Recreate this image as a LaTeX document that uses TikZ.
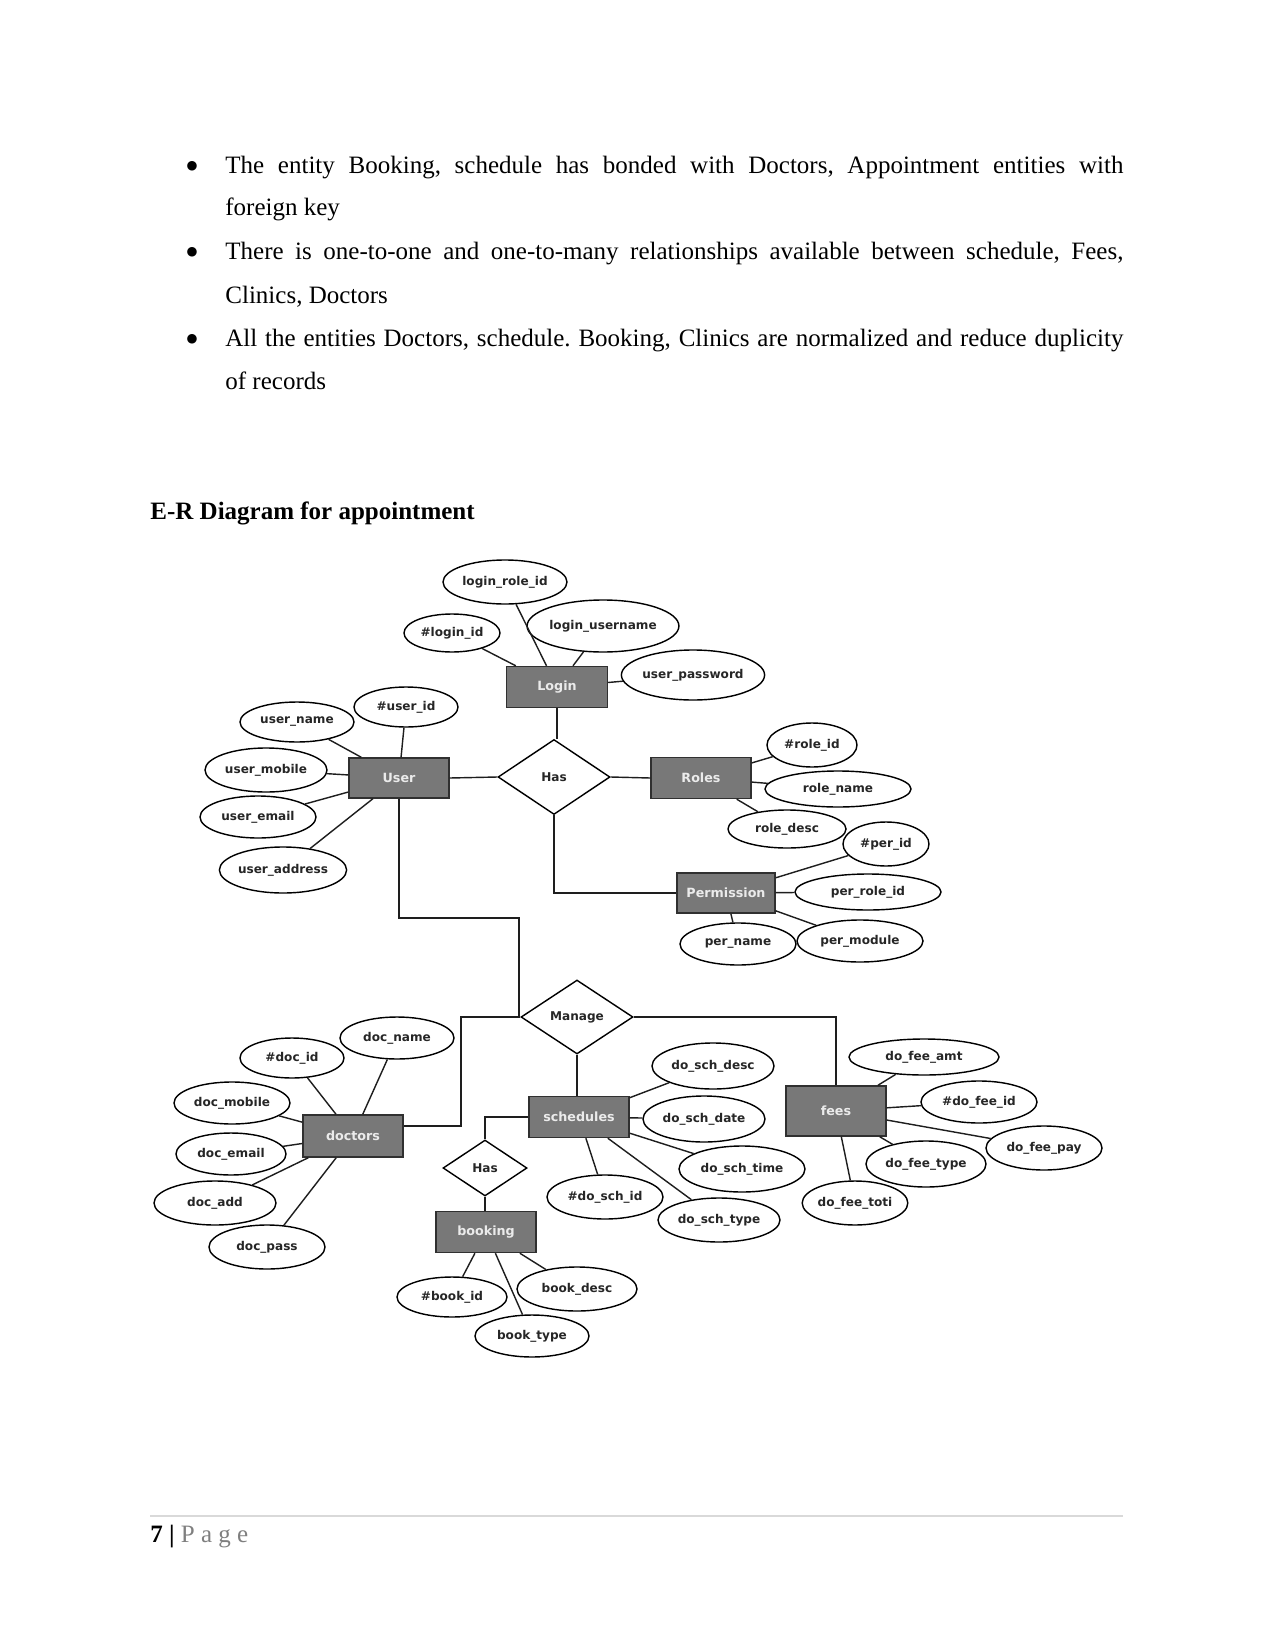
\documentclass[tikz,border=0pt]{standalone}
\usepackage{fontspec}
\setmainfont{Liberation Serif}
\newfontfamily\erfont{DejaVu Sans}
\usetikzlibrary{shapes.geometric}
\definecolor{entfill}{HTML}{787878}
\definecolor{entline}{HTML}{303030}
\definecolor{attrtext}{HTML}{262626}
\definecolor{linecol}{HTML}{1E1E1E}
\definecolor{footgray}{HTML}{7F7F7F}
\definecolor{rulegray}{HTML}{D9D9D9}
\newcommand\erAtt[6]{\node[attr, minimum width={2*#4*0.48pt}, minimum height={2*#5*0.48pt}] (#1) at (#2,#3) {#6};}
\newcommand\erEnt[6]{\node[ent, minimum width={#4*0.48pt}, minimum height={#5*0.48pt}] (#1) at (#2,#3) {#6};}
\newcommand\erRel[6]{\node[rel, minimum width={#4*0.48pt}, minimum height={#5*0.48pt}] (#1) at (#2,#3) {#6};}
\frenchspacing
\begin{document}
\begin{tikzpicture}[x=0.48pt,y=-0.48pt,
  body/.style={anchor=base west, inner sep=0pt, font=\fontsize{12pt}{14pt}\selectfont},
  bul/.style={anchor=base, inner sep=0pt, font=\erfont\fontsize{6pt}{7pt}\selectfont},
  attr/.style={ellipse, draw=black, line width=0.68pt, fill=white, inner sep=0pt,
    text=attrtext, font=\erfont\bfseries\fontsize{5.8pt}{7pt}\selectfont},
  ent/.style={rectangle, draw=entline, line width=0.68pt, fill=entfill, inner sep=0pt,
    text=white!92!black, font=\erfont\bfseries\fontsize{6.1pt}{7pt}\selectfont},
  rel/.style={diamond, draw=black, line width=0.68pt, fill=white, inner sep=0pt,
    text=attrtext, font=\erfont\bfseries\fontsize{5.8pt}{7pt}\selectfont},
  conn/.style={draw=linecol, line width=0.68pt}]
\path[use as bounding box] (0,0) rectangle (1275,1651);

% ---------- text ----------
\node[bul] (b1) at (192,170) {●};
\node[body] (t1) at (225,174) {\makebox[431.04pt][s]{The entity Booking, schedule has bonded with Doctors, Appointment entities with}};
\node[body] (t2) at (225,216) {foreign key};
\node[bul] (b2) at (192,256) {●};
\node[body] (t3) at (225,260) {\makebox[431.04pt][s]{There is one-to-one and one-to-many relationships available between schedule, Fees,}};
\node[body] (t4) at (225,303) {Clinics, Doctors};
\node[bul] (b3) at (192,342) {●};
\node[body] (t5) at (225,346) {\makebox[431.04pt][s]{All the entities Doctors, schedule. Booking, Clinics are normalized and reduce duplicity}};
\node[body] (t6) at (225,389) {of records};
\node[body] (head) at (150,519) {\textbf{E-R Diagram for appointment}};

% ---------- entities ----------
\erEnt{login}{557}{687}{101}{41}{Login}
\erEnt{user}{399}{778}{100}{40}{User}
\erEnt{roles}{701}{778}{100}{41}{Roles}
\erEnt{perm}{726}{893}{98}{40}{Permission}
\erEnt{doctors}{353}{1136}{100}{42}{doctors}
\erEnt{sched}{579}{1117}{100}{41}{schedules}
\erEnt{fees}{836}{1111}{100}{50}{fees}
\erEnt{booking}{486}{1232}{100}{41}{booking}

% ---------- relationships ----------
\erRel{has1}{554}{777}{112}{75}{Has}
\erRel{manage}{577}{1017}{112}{74}{Manage}
\erRel{has2}{485}{1168}{84}{56}{Has}

% ---------- attributes ----------
\erAtt{loginroleid}{505}{582}{62}{22}{login\_role\_id}
\erAtt{loginid}{452}{633}{48}{19}{\#login\_id}
\erAtt{loginusername}{603}{626}{71}{26}{login\_username}
\erAtt{userpassword}{693}{675}{68}{25}{user\_password}
\erAtt{userid}{406}{707}{52}{20}{\#user\_id}
\erAtt{username}{297}{722}{57}{20}{user\_name}
\erAtt{usermobile}{266}{770}{61}{22}{user\_mobile}
\erAtt{useremail}{258}{817}{58}{21}{user\_email}
\erAtt{useraddress}{283}{870}{63}{23}{user\_address}
\erAtt{roleid}{812}{745}{45}{22}{\#role\_id}
\erAtt{rolename}{838}{789}{73}{18}{role\_name}
\erAtt{roledesc}{787}{829}{59}{19}{role\_desc}
\erAtt{perid}{886}{844}{43}{22}{\#per\_id}
\erAtt{perroleid}{868}{892}{73}{18}{per\_role\_id}
\erAtt{pername}{738}{944}{58}{21}{per\_name}
\erAtt{permodule}{860}{941}{63}{21}{per\_module}
\erAtt{docname}{397}{1038}{57}{21}{doc\_name}
\erAtt{docid}{292}{1058}{52}{20}{\#doc\_id}
\erAtt{docmobile}{232}{1103}{58}{21}{doc\_mobile}
\erAtt{docemail}{231}{1154}{55}{21}{doc\_email}
\erAtt{docadd}{215}{1203}{61}{22}{doc\_add}
\erAtt{docpass}{267}{1247}{58}{22}{doc\_pass}
\erAtt{schdesc}{713}{1066}{61}{23}{do\_sch\_desc}
\erAtt{schdate}{704}{1119}{61}{23}{do\_sch\_date}
\erAtt{schtime}{742}{1169}{63}{23}{do\_sch\_time}
\erAtt{schid}{605}{1197}{58}{22}{\#do\_sch\_id}
\erAtt{schtype}{719}{1220}{61}{22}{do\_sch\_type}
\erAtt{feeamt}{924}{1057}{75}{18}{do\_fee\_amt}
\erAtt{feeid}{979}{1102}{58}{21}{\#do\_fee\_id}
\erAtt{feepay}{1044}{1148}{58}{22}{do\_fee\_pay}
\erAtt{feetype}{926}{1164}{60}{23}{do\_fee\_type}
\erAtt{feetoti}{855}{1203}{51}{22}{do\_fee\_toti}
\erAtt{bookid}{452}{1297}{55}{20}{\#book\_id}
\erAtt{bookdesc}{577}{1289}{60}{22}{book\_desc}
\erAtt{booktype}{532}{1336}{57}{21}{book\_type}

% ---------- attribute connectors ----------
\foreach \a/\b in {login/loginroleid, login/loginid, login/loginusername, login/userpassword,
  user/userid, user/username, user/usermobile, user/useremail, user/useraddress,
  roles/roleid, roles/rolename, roles/roledesc,
  perm/perid, perm/perroleid, perm/pername, perm/permodule,
  doctors/docname, doctors/docid, doctors/docmobile, doctors/docemail, doctors/docadd, doctors/docpass,
  sched/schdesc, sched/schdate, sched/schtime, sched/schid, sched/schtype,
  fees/feeamt, fees/feeid, fees/feepay, fees/feetype, fees/feetoti,
  booking/bookid, booking/bookdesc, booking/booktype}
  {\draw[conn] (\a) -- (\b);}

% ---------- relationship connectors ----------
\coordinate (j1) at (519,918);
\coordinate (j2) at (461,1126);
\draw[conn] (login.south) -- (login.south |- has1.north);
\draw[conn] (user.east) -- (has1.west);
\draw[conn] (has1.east) -- (roles.west);
\draw[conn] (has1.south) |- (perm.west);
\draw[conn] (user.south) |- (j1) -- (j1 |- manage.west) -- (manage.west);
\draw[conn] (manage.west) -| (j2) -- (j2 -| doctors.east);
\draw[conn] (manage.east) -| (fees.north);
\draw[conn] (manage.south) -- (manage.south |- sched.north);
\draw[conn] (sched.west) -| (has2.north);
\draw[conn] (has2.south) -- (has2.south |- booking.north);

% ---------- footer ----------
\draw[rulegray, line width=0.5pt] (150,1516) coordinate (r1) -- (1123,1516) coordinate (r2);
\node[body] (foot) at (150,1542) {\textbf{7} \textbf{|} \textcolor{footgray}{P a g e}};
\end{tikzpicture}
\end{document}
